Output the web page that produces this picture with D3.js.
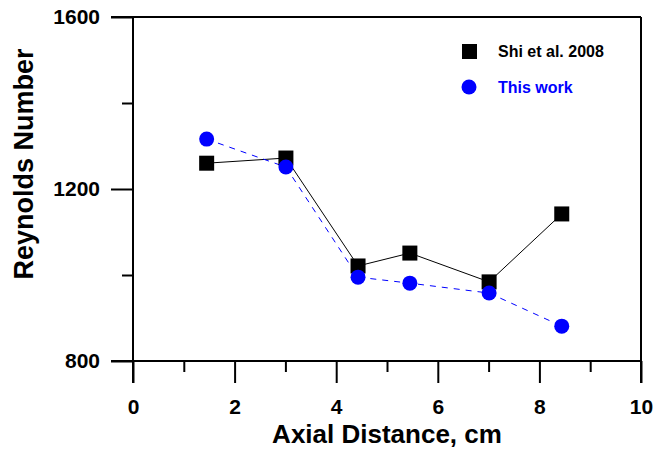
<!DOCTYPE html>
<html>
<head>
<meta charset="utf-8">
<script src="https://cdn.jsdelivr.net/npm/d3@7"></script>
<style>
  body { margin: 0; background: #fff; }
  text { font-family: "Liberation Sans", Arial, sans-serif; font-weight: bold; }
  .axis text { font-size: 21px; fill: #000; }
</style>
</head>
<body>
<svg width="654" height="450"></svg>
<script>
// 数据
var distance = [1.45, 3.01, 4.43, 5.45, 7.01, 8.44];
var shiValues = [1260, 1272, 1021, 1051, 984, 1142];
var workValues = [1316, 1251, 995, 981, 958, 881];
var xTicks = [0, 2, 4, 6, 8, 10];
var yTicks = [800, 1200, 1600];

const svg = d3.select('svg');
const margin = { left: 133, top: 17, right: 13, bottom: 89 };
const width = +svg.attr('width');
const height = +svg.attr('height');
const innerWidth = width - margin.left - margin.right;
const innerHeight = height - margin.top - margin.bottom;

const g = svg.append('g')
    .attr('transform', `translate(${margin.left},${margin.top})`);

const xScale = d3.scaleLinear().domain([0, 10]).range([0, innerWidth]);
const yScale = d3.scaleLinear().domain([800, 1600]).range([innerHeight, 0]);

// x轴
const xAxis = d3.axisBottom(xScale)
    .tickValues(d3.range(0, 11, 1))
    .tickSize(22)
    .tickPadding(16)
    .tickFormat(d => d);
const xAxisG = g.append('g')
    .attr('class', 'axis')
    .attr('transform', `translate(0,${innerHeight})`)
    .call(xAxis)
    .attr('font-size', 21);
xAxisG.selectAll('.tick line')
    .attr('y2', d => xTicks.includes(d) ? 22 : 11);
xAxisG.selectAll('.tick text').filter(d => !xTicks.includes(d)).remove();

// y轴
const yAxis = d3.axisLeft(yScale)
    .tickValues(d3.range(800, 1601, 200))
    .tickSize(22)
    .tickPadding(11)
    .tickFormat(d => d);
const yAxisG = g.append('g')
    .attr('class', 'axis')
    .call(yAxis)
    .attr('font-size', 21);
yAxisG.selectAll('.tick line')
    .attr('x2', d => yTicks.includes(d) ? -22 : -11);
yAxisG.selectAll('.tick text').filter(d => !yTicks.includes(d)).remove();

g.selectAll('.axis .domain').remove();
g.selectAll('.axis .tick line').attr('stroke', '#000').attr('stroke-width', 2);

// 框线
var frame = [
    [-22, 0, innerWidth, 0],
    [innerWidth, 0, innerWidth, innerHeight + 22],
    [-22, innerHeight, innerWidth, innerHeight],
    [0, 0, 0, innerHeight + 22]
];
g.selectAll('.frame').data(frame).enter().append('line')
    .attr('class', 'frame')
    .attr('x1', d => d[0]).attr('y1', d => d[1])
    .attr('x2', d => d[2]).attr('y2', d => d[3])
    .attr('stroke', '#000').attr('stroke-width', 2);

// 轴标题
svg.append('text')
    .attr('x', 387)
    .attr('y', 443)
    .attr('text-anchor', 'middle')
    .style('font-size', '26px')
    .text('Axial Distance, cm');
svg.append('text')
    .attr('transform', 'translate(33,164) rotate(-90)')
    .attr('text-anchor', 'middle')
    .style('font-size', '27px')
    .text('Reynolds Number');

// 折线
const shi = distance.map((d, i) => ({ x: d, y: shiValues[i] }));
const work = distance.map((d, i) => ({ x: d, y: workValues[i] }));
const line = d3.line().x(d => xScale(d.x)).y(d => yScale(d.y));

g.append('path').datum(shi).attr('d', line)
    .attr('fill', 'none').attr('stroke', '#000').attr('stroke-width', 1);
g.append('path').datum(work).attr('d', line)
    .attr('fill', 'none').attr('stroke', '#0000ff').attr('stroke-width', 1)
    .attr('stroke-dasharray', '6,6');

g.selectAll('.sq').data(shi).enter().append('rect')
    .attr('class', 'sq')
    .attr('x', d => xScale(d.x) - 7.5)
    .attr('y', d => yScale(d.y) - 7.5)
    .attr('width', 15).attr('height', 15)
    .attr('fill', '#000');
g.selectAll('.dot').data(work).enter().append('circle')
    .attr('class', 'dot')
    .attr('cx', d => xScale(d.x))
    .attr('cy', d => yScale(d.y))
    .attr('r', 7.5)
    .attr('fill', '#0000ff');

// 图例
svg.append('rect').attr('x', 462).attr('y', 44).attr('width', 15).attr('height', 15).attr('fill', '#000');
svg.append('text').attr('x', 498).attr('y', 57).style('font-size', '16px').attr('fill', '#000').text('Shi et al. 2008');
svg.append('circle').attr('cx', 469).attr('cy', 87).attr('r', 7.5).attr('fill', '#0000ff');
svg.append('text').attr('x', 498).attr('y', 93).style('font-size', '16px').attr('fill', '#0000ff').text('This work');
</script>
</body>
</html>
